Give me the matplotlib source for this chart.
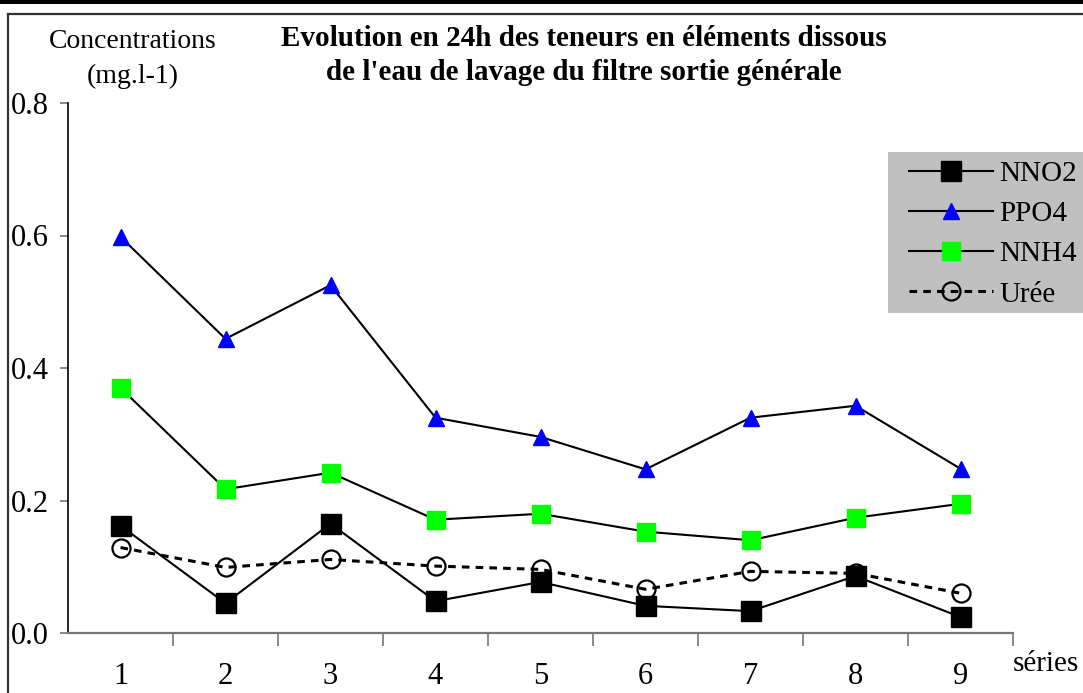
import matplotlib
matplotlib.use("Agg")
import matplotlib.pyplot as plt
from matplotlib.patches import Rectangle
from matplotlib.lines import Line2D

series = [1, 2, 3, 4, 5, 6, 7, 8, 9]
tick_labels = ["1", "2", "3", "4", "5", "6", "7", "8", "9"]
nno2 = [0.162, 0.045, 0.165, 0.048, 0.077, 0.041, 0.033, 0.086, 0.024]
ppo4 = [0.598, 0.444, 0.525, 0.325, 0.296, 0.247, 0.325, 0.343, 0.248]
nnh4 = [0.370, 0.217, 0.242, 0.171, 0.180, 0.153, 0.140, 0.174, 0.195]
uree = [0.129, 0.099, 0.111, 0.101, 0.096, 0.066, 0.093, 0.090, 0.060]
yticks = [0.0, 0.2, 0.4, 0.6, 0.8]

plt.rcParams['font.family'] = ['Liberation Serif', 'DejaVu Serif']

W, H = 1083, 693
fig = plt.figure(figsize=(W / 100, H / 100), dpi=100)

def fx(px):
    return px / W

def fy(py):
    return 1 - py / H

# outer decorations
fig.patches.append(Rectangle((0, fy(4)), 1, 4 / H, transform=fig.transFigure,
                             facecolor='black', edgecolor='none'))
fig.lines.append(Line2D([fx(8), 1.0], [fy(14), fy(14)], transform=fig.transFigure,
                        color='#333333', lw=1.6))
fig.lines.append(Line2D([fx(8), fx(8)], [fy(14), 0], transform=fig.transFigure,
                        color='#333333', lw=1.6))

ax = fig.add_axes([fx(68), fy(633), fx(1013) - fx(68), fy(103) - fy(633)])
ax.set_xlim(0.5, 9.5)
ax.set_ylim(0, 0.8)

ax.plot(series, uree, linestyle=(0, (2.5, 2)), color='black', lw=2.2,
        marker='o', markersize=13, markerfacecolor='none', markeredgecolor='black',
        markeredgewidth=1.6, label='Urée', zorder=2)
ax.plot(series, nnh4, color='black', lw=1.5, marker='s', markersize=13,
        markerfacecolor='#00ff00', markeredgecolor='#00ff00', label='NNH4', zorder=3)
ax.plot(series, ppo4, color='black', lw=1.5, marker='^', markersize=11,
        markerfacecolor='#0000ff', markeredgecolor='#0000ff', label='PPO4', zorder=3)
ax.plot(series, nno2, color='black', lw=1.5, marker='s', markersize=14,
        markerfacecolor='black', markeredgecolor='black', label='NNO2', zorder=4)

for s in ['top', 'right']:
    ax.spines[s].set_visible(False)
ax.spines['left'].set_color('black')
ax.spines['left'].set_linewidth(1.2)
ax.spines['bottom'].set_color('#777777')
ax.spines['bottom'].set_linewidth(1.6)

ax.set_yticks(yticks)
ax.set_yticklabels([f"{v:.1f}" for v in yticks])
ax.tick_params(axis='y', direction='out', length=6, width=1.2, color='#777777',
               labelsize=22, pad=7.5)
ax.set_xticks(series)
ax.set_xticklabels(tick_labels)
ax.tick_params(axis='x', which='major', length=0, labelsize=22, pad=21)
ax.set_xticks([1.5 + i for i in range(8)] + [9.5], minor=True)
ax.tick_params(axis='x', which='minor', direction='out', length=9, width=1.2,
               color='#777777')

# legend
fig.patches.append(Rectangle((fx(888), fy(313)), 1 - fx(888) + 0.01, (313 - 152) / H,
                             transform=fig.transFigure, facecolor='#c0c0c0',
                             edgecolor='none'))
h = ax.get_legend_handles_labels()
order = ['NNO2', 'PPO4', 'NNH4', 'Urée']
hd = dict(zip(h[1], h[0]))
leg = fig.legend([hd[k] for k in order], order, loc='upper left',
                 bbox_to_anchor=(fx(900), fy(152)), frameon=False, fontsize=21,
                 handlelength=2.9, handletextpad=0.2, labelspacing=0.47,
                 borderaxespad=0, borderpad=0.3)

fig.text(fx(133), fy(42), "Concentrations", ha='center', va='center', fontsize=20)
fig.text(fx(133), fy(76), "(mg.l-1)", ha='center', va='center', fontsize=20)
fig.text(fx(584), fy(38), "Evolution en 24h des teneurs en éléments dissous",
         ha='center', va='center', fontsize=21, fontweight='bold')
fig.text(fx(584), fy(72), "de l'eau de lavage du filtre sortie générale",
         ha='center', va='center', fontsize=21, fontweight='bold')
fig.text(fx(1046), fy(664), "séries", ha='center', va='center', fontsize=21)

fig.savefig("out.png", dpi=100)
